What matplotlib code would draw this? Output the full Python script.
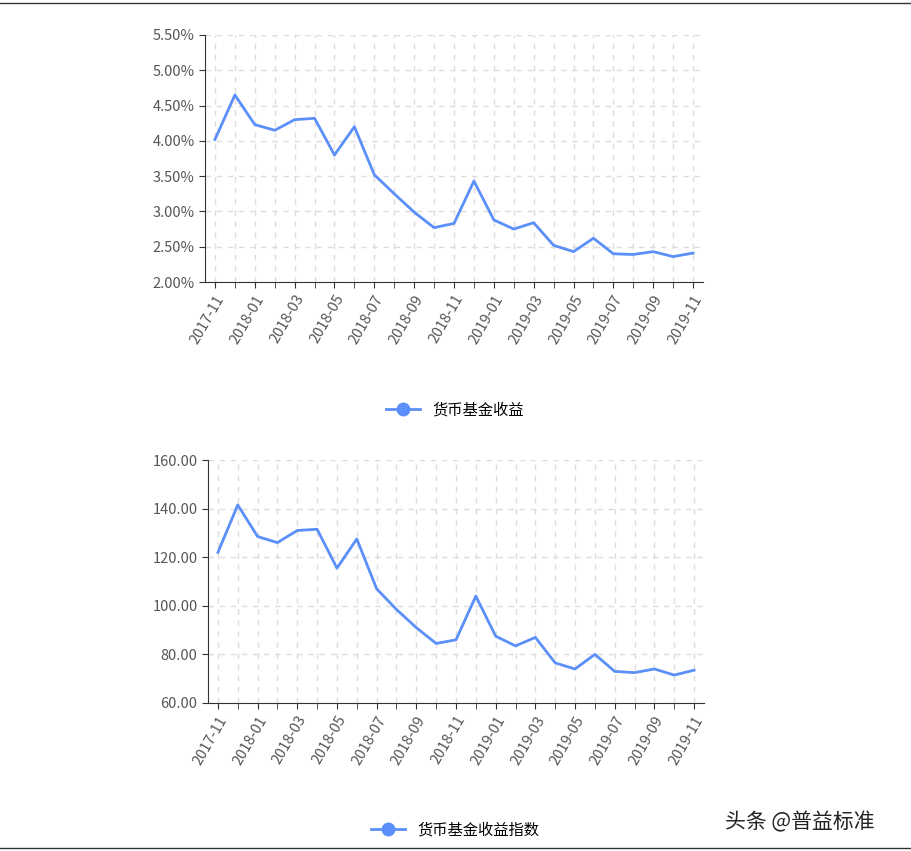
import matplotlib
matplotlib.use("Agg")
import matplotlib.pyplot as plt
from matplotlib.lines import Line2D

plt.rcParams['font.family'] = ['Noto Sans CJK SC', 'DejaVu Sans']

months = ["2017-11","2017-12","2018-01","2018-02","2018-03","2018-04","2018-05","2018-06",
          "2018-07","2018-08","2018-09","2018-10","2018-11","2018-12","2019-01","2019-02",
          "2019-03","2019-04","2019-05","2019-06","2019-07","2019-08","2019-09","2019-10","2019-11"]
yield_pct = [4.02,4.65,4.23,4.15,4.30,4.32,3.80,4.20,3.52,3.25,2.99,2.77,2.83,3.43,2.88,2.75,
             2.84,2.52,2.43,2.62,2.40,2.39,2.43,2.36,2.41]
index_vals = [122,141.5,128.5,126,131,131.5,115.5,127.5,107,98.5,91,84.5,86,104,87.5,83.5,
              87,76.5,74,80,73,72.5,74,71.5,73.5]
legend1 = "货币基金收益"
legend2 = "货币基金收益指数"

W, H = 912, 851
fig = plt.figure(figsize=(W/100, H/100), dpi=100)
color = "#5b8ff9"

def make(ax, vals, ylim, yticks, fmt):
    x = list(range(len(months)))
    ax.plot(x, vals, color=color, lw=2)
    ax.set_xlim(-0.5, len(months)-0.5)
    ax.set_ylim(*ylim)
    ax.set_yticks(yticks)
    ax.set_yticklabels([fmt(v) for v in yticks], fontsize=10.5, color="#555555")
    ax.set_xticks(x[::2])
    ax.set_xticklabels(months[::2], rotation=60, ha="right", rotation_mode="anchor",
                       fontsize=10.5, color="#555555")
    ax.set_xticks(x, minor=True)
    ax.grid(True, which="both", axis="x", ls=(0,(4,4)), color="#dddddd", lw=1)
    ax.grid(True, axis="y", ls=(0,(4,4)), color="#dddddd", lw=1)
    for s in ["top", "right"]:
        ax.spines[s].set_visible(False)
    for s in ["left", "bottom"]:
        ax.spines[s].set_color("#333333")
    ax.tick_params(which="both", color="#333333", length=4)

ax1 = fig.add_axes([205/W, 1-282/H, 498/W, 247/H])
make(ax1, yield_pct, (2.0, 5.5), [2.0+0.5*i for i in range(8)], lambda v: f"{v:.2f}%")
ax2 = fig.add_axes([208/W, 1-703/H, 496/W, 243/H])
make(ax2, index_vals, (60, 160), [60,80,100,120,140,160], lambda v: f"{v:.2f}")

h = Line2D([], [], color=color, lw=2, marker="o", markersize=9)
fig.legend([h], [legend1], loc="center", bbox_to_anchor=(455/W, 1-410/H), frameon=False,
           fontsize=11, handlelength=2.2)
fig.legend([h], [legend2], loc="center", bbox_to_anchor=(455/W, 1-830/H), frameon=False,
           fontsize=11, handlelength=2.2)
fig.text(725/W, 1-822/H, "头条 @普益标准", fontsize=15, color="#222222", va="center")
fig.add_artist(Line2D([0, 1], [1-3/H, 1-3/H], color="#333333", lw=1))
fig.add_artist(Line2D([0, 1], [1-848/H, 1-848/H], color="#333333", lw=1))
fig.savefig("out.png", dpi=100)
